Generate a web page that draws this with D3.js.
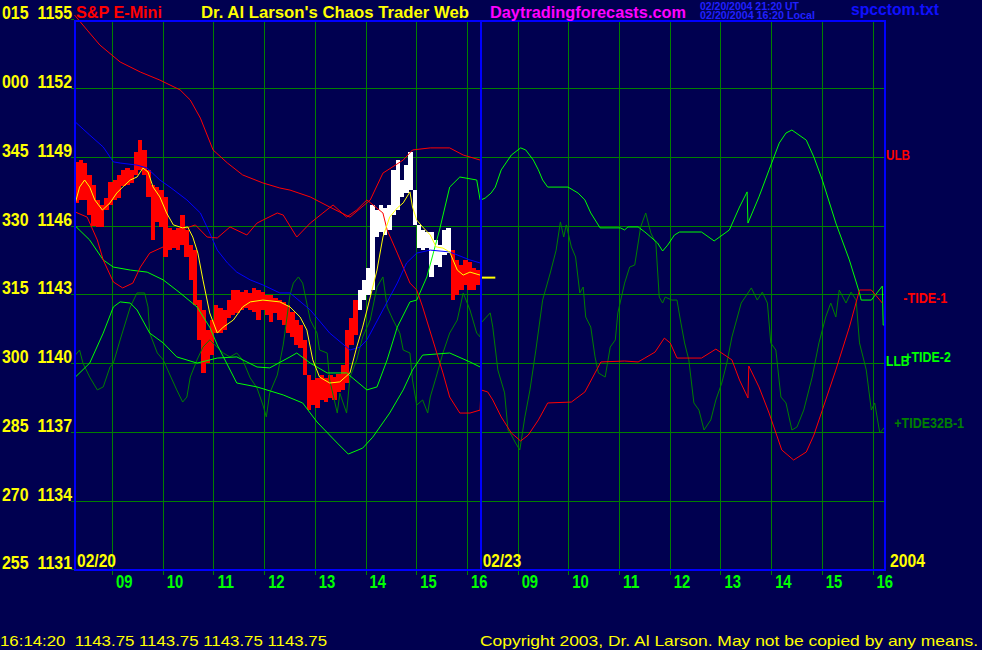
<!DOCTYPE html>
<html><head><meta charset="utf-8">
<script src="https://cdn.jsdelivr.net/npm/d3@7"></script>
<style>html,body{margin:0;padding:0;background:#000050;}svg{display:block;}text{white-space:pre;}</style>
</head><body>
<script>
// ---------- DATA ----------
// time = minutes since 08:15 on 02/20 (session clock: day1 0..480, day2 480..960)
const priceTicks = [1155,1152,1149,1146,1143,1140,1137,1134,1131];
const degreeLabels = ["015","000","345","330","315","300","285","270","255"];
const hourLabels = ["09","10","11","12","13","14","15","16"];
const dayLabels = ["02/20","02/23"];
const yearLabel = "2004";
// 5-minute bars [high, low], day 1 starting 08:15
const barHigh = [1148.80,1148.88,1148.75,1148.23,1147.79,1147.14,1146.92,1147.22,1147.92,1148.01,1148.23,1148.45,1148.53,1148.45,1149.23,1149.75,1149.32,1148.45,1147.79,1147.70,1147.57,1147.27,1145.92,1145.83,1145.92,1146.48,1145.83,1145.17,1144.95,1142.77,1142.34,1141.46,1141.90,1142.56,1142.42,1142.34,1142.77,1143.21,1143.21,1143.12,1143.21,1143.08,1143.30,1143.21,1143.12,1142.99,1142.99,1142.86,1142.77,1142.69,1142.56,1142.25,1141.90,1141.68,1141.03,1139.50,1139.28,1139.37,1139.50,1139.37,1139.50,1139.41,1139.54,1139.94,1141.46,1141.99,1142.77,1143.21,1143.65,1144.17,1146.92,1146.70,1146.92,1146.79,1146.92,1148.45,1148.88,1148.01,1148.66,1149.23,1147.57,1146.05,1145.83,1145.74,1145.74,1145.39,1145.17,1145.83,1145.92,1144.95,1144.52,1144.30,1144.52,1144.43,1144.17,1144.08];
const barLow = [1147.01,1147.14,1147.14,1146.48,1146.00,1145.96,1145.96,1146.70,1146.92,1147.14,1147.22,1147.75,1147.79,1147.88,1148.23,1148.45,1148.23,1147.27,1145.39,1146.18,1145.96,1144.65,1144.95,1145.04,1144.95,1145.17,1144.65,1143.65,1142.56,1141.03,1139.59,1140.02,1140.37,1141.33,1141.33,1141.46,1141.99,1142.12,1142.21,1142.34,1142.42,1142.34,1142.25,1141.90,1142.34,1142.12,1141.81,1142.21,1141.90,1141.68,1141.33,1141.16,1140.81,1140.68,1139.50,1137.97,1138.19,1138.06,1138.41,1138.32,1138.50,1138.41,1138.76,1138.85,1139.15,1140.81,1141.25,1142.34,1142.77,1142.99,1143.21,1145.52,1145.74,1145.61,1145.83,1146.48,1146.70,1147.27,1147.44,1147.57,1146.05,1145.04,1144.95,1145.04,1143.78,1144.30,1144.21,1144.74,1144.82,1142.77,1142.99,1143.21,1143.43,1143.21,1143.21,1143.43];
const whiteBarsFrom = 67, whiteBarsTo = 88;
const lastPrice = 1143.75;
const yellowAvg = [[1,1147.01],[6,1147.70],[12,1148.01],[18,1147.70],[24,1147.14],[33,1146.70],[42,1147.01],[50,1147.44],[57,1147.70],[66,1148.01],[74,1148.14],[81,1148.53],[87,1148.36],[93,1147.70],[101,1147.27],[109,1146.57],[117,1146.05],[128,1145.92],[134,1145.96],[140,1145.52],[146,1144.82],[152,1143.65],[160,1142.21],[169,1141.33],[176,1141.59],[188,1141.90],[199,1142.47],[208,1142.69],[223,1142.77],[243,1142.69],[255,1142.47],[267,1142.03],[275,1141.46],[282,1140.16],[290,1139.41],[302,1139.15],[314,1139.20],[326,1139.59],[334,1140.72],[341,1141.59],[350,1142.90],[358,1144.08],[365,1145.52],[373,1146.39],[382,1146.79],[389,1147.01],[397,1147.49],[400,1146.83],[405,1146.26],[412,1145.96],[421,1145.61],[428,1145.09],[436,1145.04],[444,1144.87],[453,1144.08],[460,1143.86],[468,1143.99],[480,1143.86]];
const midBand = [[1,1150.54],[18,1149.97],[34,1149.45],[46,1148.80],[54,1148.75],[74,1148.66],[86,1148.53],[101,1148.01],[113,1147.70],[133,1147.14],[149,1146.57],[160,1145.70],[169,1144.95],[181,1144.39],[192,1143.99],[208,1143.65],[223,1143.43],[243,1143.08],[255,1143.08],[279,1142.34],[302,1141.33],[326,1140.59],[338,1140.72],[346,1141.03],[365,1142.34],[382,1143.51],[393,1144.39],[405,1144.82],[421,1144.95],[444,1144.87],[468,1144.52],[480,1144.39]];
const ulb = [[0,1155.21],[15,1154.55],[30,1153.90],[54,1153.16],[78,1152.72],[101,1152.37],[125,1151.94],[137,1151.50],[149,1150.71],[164,1149.32],[181,1148.75],[199,1148.23],[223,1147.88],[243,1147.66],[255,1147.57],[279,1147.27],[302,1146.83],[326,1146.39],[350,1147.14],[365,1148.31],[389,1148.88],[400,1149.32],[421,1149.41],[444,1149.41],[460,1149.10],[480,1148.88]];
const llb = [[1,1146.00],[18,1145.39],[34,1144.52],[46,1144.21],[66,1144.08],[86,1143.99],[105,1143.65],[125,1143.08],[145,1142.47],[160,1141.59],[169,1140.81],[192,1139.15],[216,1138.98],[247,1138.63],[270,1138.28],[287,1137.45],[311,1136.53],[324,1136.05],[341,1136.31],[353,1136.79],[373,1137.84],[389,1138.85],[400,1139.72],[412,1140.37],[444,1140.46],[468,1140.07],[480,1139.85]];
const tide1 = [[1,1146.61],[15,1146.39],[27,1145.39],[34,1144.52],[46,1143.56],[57,1143.30],[69,1143.51],[78,1144.21],[89,1144.82],[105,1145.09],[117,1145.39],[133,1145.92],[143,1146.05],[157,1145.52],[169,1145.48],[184,1145.96],[204,1145.61],[216,1146.13],[223,1146.26],[240,1146.57],[247,1146.48],[263,1145.52],[279,1146.13],[294,1146.57],[306,1146.92],[322,1146.39],[334,1146.70],[346,1147.14],[365,1146.57],[370,1145.83],[382,1144.82],[397,1143.51],[405,1143.21],[412,1142.47],[424,1141.03],[436,1139.59],[444,1138.54],[456,1137.84],[468,1137.84],[480,1137.97],
  [481,1138.85],[489,1138.76],[495,1138.41],[505,1137.67],[517,1136.97],[528,1136.62],[537,1136.88],[549,1137.54],[560,1138.28],[588,1138.32],[604,1138.76],[616,1139.59],[623,1140.07],[651,1140.11],[667,1140.07],[675,1140.24],[687,1140.50],[698,1141.11],[705,1140.90],[713,1140.24],[742,1140.24],[759,1140.63],[778,1140.16],[787,1139.28],[797,1138.50],[798,1139.89],[810,1138.98],[822,1137.84],[837,1136.23],[851,1135.79],[866,1136.14],[875,1136.88],[885,1137.97],[901,1139.72],[917,1141.59],[929,1143.21],[943,1143.21],[956,1142.64]];
const tide2 = [[1,1139.41],[18,1140.02],[34,1141.33],[46,1142.47],[54,1142.69],[66,1142.64],[74,1142.34],[89,1141.33],[105,1140.90],[121,1140.29],[145,1140.02],[169,1140.24],[192,1140.29],[216,1139.85],[231,1139.81],[255,1140.29],[263,1140.46],[279,1140.02],[299,1139.59],[322,1139.59],[346,1138.85],[358,1138.98],[370,1140.16],[382,1141.59],[397,1142.69],[405,1142.77],[417,1143.78],[432,1145.83],[444,1147.70],[456,1148.14],[476,1148.01],[480,1147.14],
  [481,1147.14],[486,1147.22],[493,1147.44],[498,1147.70],[505,1148.45],[517,1149.10],[528,1149.41],[534,1149.32],[543,1148.88],[549,1148.45],[554,1148.01],[560,1147.70],[584,1147.70],[596,1147.44],[604,1147.14],[611,1146.57],[622,1145.92],[646,1145.92],[651,1145.83],[655,1145.96],[667,1145.96],[675,1145.74],[682,1145.52],[690,1145.26],[696,1144.91],[702,1145.17],[710,1145.61],[716,1145.74],[742,1145.74],[757,1145.35],[775,1145.83],[787,1146.83],[796,1147.49],[797,1146.13],[810,1147.27],[822,1148.45],[834,1149.62],[842,1150.06],[849,1150.19],[866,1149.75],[875,1149.01],[885,1148.01],[901,1146.13],[917,1144.52],[929,1143.08],[931,1142.77],[943,1142.77],[956,1143.38],[957,1141.68],[959,1141.68],[959,1139.95]];
const tide32b = [[1,1140.37],[6,1140.59],[10,1140.02],[18,1139.41],[27,1138.85],[34,1138.98],[42,1139.85],[46,1140.02],[54,1141.03],[66,1142.47],[74,1143.08],[83,1143.08],[87,1142.47],[89,1141.33],[98,1140.46],[105,1140.16],[113,1139.50],[121,1138.85],[128,1138.32],[133,1138.54],[137,1139.41],[145,1140.16],[152,1140.72],[160,1141.03],[176,1140.46],[184,1140.29],[192,1140.46],[199,1140.16],[208,1139.37],[216,1138.93],[223,1138.19],[227,1137.67],[231,1138.71],[240,1139.50],[247,1140.81],[255,1142.99],[259,1143.51],[265,1143.78],[270,1143.51],[279,1141.90],[287,1141.33],[290,1140.59],[299,1140.46],[302,1139.28],[311,1137.84],[314,1138.71],[322,1137.84],[326,1139.41],[334,1140.16],[341,1141.16],[350,1141.90],[358,1143.34],[365,1143.78],[370,1142.47],[377,1141.90],[385,1141.33],[389,1140.59],[397,1140.46],[400,1139.28],[405,1138.19],[412,1138.41],[418,1137.84],[421,1138.54],[428,1139.41],[436,1140.46],[444,1141.33],[453,1141.90],[460,1143.08],[468,1142.34],[476,1141.33],[480,1141.16],
  [481,1141.77],[492,1142.21],[495,1141.59],[501,1139.72],[509,1138.72],[513,1137.10],[517,1136.88],[522,1136.53],[527,1136.23],[533,1137.67],[539,1138.85],[546,1140.59],[554,1142.77],[563,1143.95],[570,1144.95],[575,1146.18],[579,1145.52],[582,1146.05],[588,1145.09],[593,1144.65],[598,1143.08],[602,1143.34],[605,1142.03],[611,1141.59],[616,1140.29],[620,1139.59],[628,1139.41],[634,1140.72],[640,1141.03],[643,1142.21],[651,1143.51],[657,1144.21],[663,1144.30],[670,1145.96],[676,1146.57],[682,1145.70],[688,1145.26],[692,1142.90],[696,1142.64],[699,1142.90],[707,1142.77],[713,1142.77],[717,1141.90],[722,1140.90],[727,1140.16],[733,1138.28],[739,1137.97],[745,1137.10],[753,1137.54],[759,1138.41],[766,1139.15],[772,1140.02],[778,1141.16],[789,1142.64],[801,1143.30],[808,1142.77],[814,1143.12],[820,1142.64],[824,1140.90],[830,1140.59],[836,1138.54],[842,1138.28],[849,1137.10],[855,1137.23],[863,1137.97],[873,1139.41],[881,1140.90],[889,1142.03],[895,1142.64],[901,1142.03],[905,1143.21],[913,1142.64],[919,1143.12],[925,1142.77],[929,1140.90],[937,1139.72],[943,1137.97],[947,1138.28],[953,1136.97],[959,1137.23]];
const seriesLabels = [
  {name:"ULB", color:"#ff0000"},
  {name:"-TIDE-1", color:"#ff0000"},
  {name:"LLB", color:"#00ff00"},
  {name:"+TIDE-2", color:"#00ff00"},
  {name:"+TIDE32B-1", color:"#008000"}
];
const headerTitle = "S&P E-Mini";
const headerSite = "Dr. Al Larson's Chaos Trader Web";
const headerUrl = "Daytradingforecasts.com";
const stampUT = "02/20/2004 21:20 UT";
const stampLocal = "02/20/2004 16:20 Local";
const fileName = "spcctom.txt";
const quoteLine = "16:14:20  1143.75 1143.75 1143.75 1143.75";
const copyright = "Copyright 2003, Dr. Al Larson. May not be copied by any means.";

// ---------- DRAW ----------
const W = 982, H = 650;
const BG = "#000050", GRID = "#008000", BLUE = "#0000ff";
const FONT = "'Liberation Sans', Arial, sans-serif";
const svg = d3.select("body").append("svg").attr("width", W).attr("height", H);
svg.append("rect").attr("width", W).attr("height", H).attr("fill", BG);

const x = d3.scaleLinear().domain([0, 960]).range([74.5, 885.7]);
const y = d3.scaleLinear().domain([1131, 1155]).range([569.8, 19.8]);
const px = v => Math.floor(v) + 0.5;

const gGrid = svg.append("g").attr("shape-rendering", "crispEdges");
gGrid.selectAll("line.h").data(priceTicks.slice(1, -1)).enter().append("line")
  .attr("x1", x(0)).attr("x2", x(960)).attr("y1", d => px(y(d))).attr("y2", d => px(y(d)))
  .attr("stroke", GRID).attr("stroke-width", 1);
const hourTimes = [];
[0, 1].forEach(day => hourLabels.forEach((h, i) => hourTimes.push({t: day * 480 + (9 + i - 8.25) * 60, label: h})));
gGrid.selectAll("line.v").data(hourTimes).enter().append("line")
  .attr("x1", d => px(x(d.t))).attr("x2", d => px(x(d.t))).attr("y1", 20).attr("y2", 575)
  .attr("stroke", GRID).attr("stroke-width", 1);
gGrid.selectAll("line.lt").data(priceTicks).enter().append("line")
  .attr("x1", 70.5).attr("x2", 74).attr("y1", d => px(y(d))).attr("y2", d => px(y(d)))
  .attr("stroke", GRID).attr("stroke-width", 1);

const barW = x(5) - x(0);
svg.append("g").attr("shape-rendering", "crispEdges").selectAll("rect").data(barHigh).enter().append("rect")
  .attr("x", (d, i) => x(i * 5)).attr("width", barW + 0.3)
  .attr("y", d => y(d)).attr("height", (d, i) => Math.max(1, y(barLow[i]) - y(d)))
  .attr("fill", (d, i) => (i >= whiteBarsFrom && i <= whiteBarsTo) ? "#ffffff" : "#ff0000");

const line = d3.line().x(d => x(d[0])).y(d => y(d[1]));
const gLines = svg.append("g").attr("fill", "none").attr("stroke-width", 1);
const addLine = (data, color) => gLines.append("path").attr("d", line(data)).attr("stroke", color);
addLine(tide32b, "#008000");
addLine(tide2, "#00ff00");
addLine(llb, "#00ff00");
addLine(tide1, "#ff0000");
addLine(ulb, "#ff0000");
addLine(midBand, "#0000ff");
addLine(yellowAvg, "#ffff00");
svg.append("line").attr("x1", x(480)).attr("x2", x(498)).attr("y1", y(lastPrice)).attr("y2", y(lastPrice))
  .attr("stroke", "#ffff00").attr("stroke-width", 2);

const gB = svg.append("g").attr("stroke", BLUE).attr("stroke-width", 2).attr("shape-rendering", "crispEdges");
gB.append("line").attr("x1", 75).attr("x2", 75).attr("y1", 20).attr("y2", 571);
gB.append("line").attr("x1", 885).attr("x2", 885).attr("y1", 20).attr("y2", 571);
gB.append("line").attr("x1", 480.5).attr("x2", 480.5).attr("y1", 20).attr("y2", 571);
gB.append("line").attr("x1", 74).attr("x2", 886).attr("y1", 21).attr("y2", 21);
gB.append("line").attr("x1", 74).attr("x2", 886).attr("y1", 570).attr("y2", 570);

function txt(s, xx, yy, color, size, len, anchor, weight) {
  const t = svg.append("text").attr("x", xx).attr("y", yy).attr("fill", color)
    .attr("font-family", FONT).attr("font-size", size).attr("font-weight", weight || "bold")
    .attr("text-anchor", anchor || "start").text(s);
  if (len) t.attr("textLength", len).attr("lengthAdjust", "spacingAndGlyphs");
  return t;
}
priceTicks.forEach((p, i) => txt(degreeLabels[i] + "  " + p, 72, y(p) - 0.5, "#ffff00", 18, 70, "end"));
hourTimes.forEach(d => txt(d.label, x(d.t) + 3.5, 588, "#00ff00", 19, 16.5));
txt(dayLabels[0], 77, 566.5, "#ffff00", 19, 39);
txt(dayLabels[1], 482.7, 566.5, "#ffff00", 19, 38.5);
txt(yearLabel, 890, 566.5, "#ffff00", 19, 35);
txt(headerTitle, 76, 17.5, "#ff0000", 17, 86);
txt(headerSite, 201, 17.5, "#ffff00", 17, 268);
txt(headerUrl, 490, 17.5, "#ff00ff", 17, 196);
txt(stampUT, 700, 9.5, "#2020ff", 10, 99);
txt(stampLocal, 700, 19, "#2020ff", 10, 115);
txt(fileName, 851, 15, "#1010ff", 16, 88);
const lblPos = [[886, 160, 24], [903.3, 303, 44], [886, 366, 23.5], [904.3, 362, 46.5], [894.3, 427.5, 69.7]];
seriesLabels.forEach((s, i) => txt(s.name, lblPos[i][0], lblPos[i][1], s.color, 15, lblPos[i][2]));
txt(quoteLine, 0, 645.5, "#ffff00", 15, 327, "start", "normal");
txt(copyright, 480, 645.5, "#ffff00", 15, 498, "start", "normal");
</script>
</body></html>
